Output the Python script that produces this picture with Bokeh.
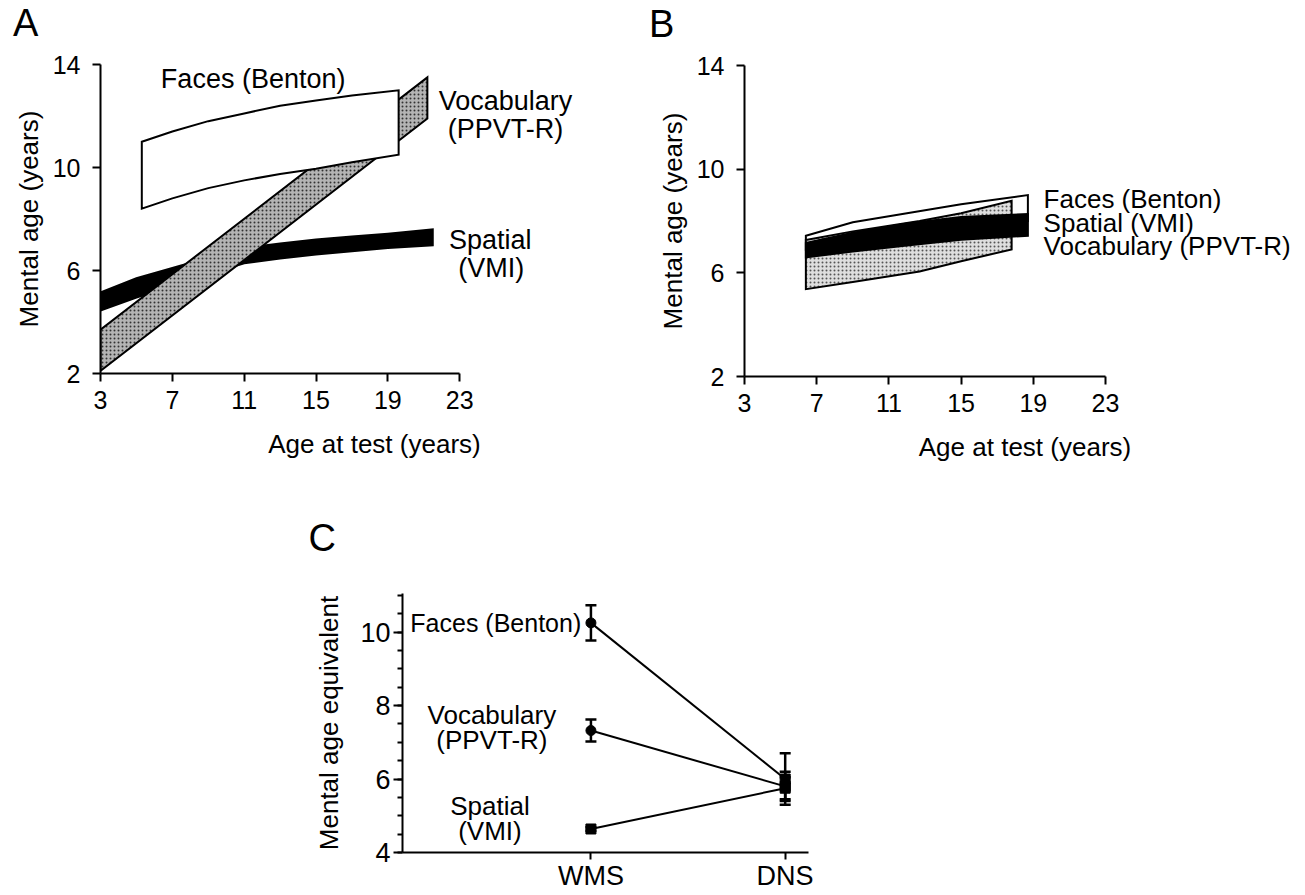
from bokeh.plotting import figure
from bokeh.layouts import row, column
from bokeh.models import (FixedTicker, Spacer, ColumnDataSource, Whisker, TeeHead,
                          Range1d, Div)
from bokeh.embed import file_html
from bokeh.resources import INLINE
from bokeh.core.properties import value

FONT = "Liberation Sans"

# ---------------- Panel A data ----------------
a_faces_x = [5.3, 7, 9, 11, 13, 15, 17, 19.6]
a_faces_hi = [11.0, 11.4, 11.8, 12.1, 12.4, 12.6, 12.8, 13.0]
a_faces_lo = [8.4, 8.8, 9.2, 9.5, 9.75, 9.95, 10.2, 10.5]
a_vocab_x = [3, 21.2]
a_vocab_hi = [3.7, 13.5]
a_vocab_lo = [2.1, 11.9]
a_spat_x = [3, 5, 7, 9, 11, 13, 15, 17, 19, 21.5]
a_spat_hi = [5.15, 5.7, 6.1, 6.5, 6.88, 7.05, 7.2, 7.32, 7.43, 7.6]
a_spat_lo = [4.45, 4.95, 5.4, 5.85, 6.28, 6.47, 6.62, 6.75, 6.87, 6.98]
a_label_text = ["Faces (Benton)", "Vocabulary", "(PPVT-R)", "Spatial", "(VMI)"]
a_label_x = [11.5, 25.55, 25.55, 24.7, 24.75]
a_label_y = [13.43, 12.58, 11.5, 7.17, 6.08]

# ---------------- Panel B data ----------------
b_faces_x = [6.4, 9, 12, 15, 18.7]
b_faces_hi = [7.43, 7.95, 8.3, 8.65, 9.0]
b_faces_lo = [6.9, 7.15, 7.4, 7.7, 8.0]
b_vocab_x = [6.4, 9, 12.7, 15, 17.8]
b_vocab_hi = [7.27, 7.6, 8.0, 8.3, 8.78]
b_vocab_lo = [5.37, 5.65, 6.05, 6.45, 6.9]
b_spat_x = [6.4, 9, 12, 15, 18.7]
b_spat_hi = [7.15, 7.55, 7.9, 8.15, 8.27]
b_spat_lo = [6.6, 6.82, 7.05, 7.28, 7.43]
b_label_text = ["Faces (Benton)", "Spatial (VMI)", "Vocabulary (PPVT-R)"]
b_label_x = [19.57, 19.57, 19.57]
b_label_y = [8.83, 7.94, 7.05]

# ---------------- Panel C data ----------------
c_groups = ["WMS", "DNS"]
c_group_x = [1, 2]
c_faces = [10.25, 6.0]
c_faces_err = [0.48, 0.7]
c_vocab = [7.32, 5.8]
c_vocab_err = [0.3, 0.4]
c_spatial = [4.64, 5.75]
c_spatial_err = [0.05, 0.3]
c_label_text = ["Faces (Benton)", "Vocabulary", "(PPVT-R)", "Spatial", "(VMI)"]
c_label_x = [0.95, 0.49, 0.49, 0.48, 0.48]
c_label_y = [10.24, 7.73, 7.05, 5.27, 4.59]
c_label_align = ["right", "center", "center", "center", "center"]
c_label_size = ["25px", "26px", "26px", "26px", "26px"]

axis_ticks_x = [3, 7, 11, 15, 19, 23]
axis_ticks_y = [2, 6, 10, 14]

LETTER_H = 44


def band(p, xs, hi, lo, **kw):
    p.patch(list(xs) + list(xs)[::-1], list(hi) + list(lo)[::-1],
            line_color="black", line_width=2, line_join="miter", **kw)


def style(p, tick_size="25px", tick_out=8):
    p.outline_line_color = None
    p.grid.visible = False
    p.background_fill_color = "white"
    p.border_fill_color = "white"
    for ax in (p.xaxis[0], p.yaxis[0]):
        ax.axis_line_width = 2
        ax.axis_line_color = "black"
        ax.major_tick_line_width = 2
        ax.major_tick_line_color = "black"
        ax.major_tick_out = tick_out
        ax.major_tick_in = 0
        ax.minor_tick_line_color = None
        ax.major_label_text_font = FONT
        ax.major_label_text_font_size = tick_size
        ax.major_label_text_color = "black"
        ax.axis_label_text_font = FONT
        ax.axis_label_text_font_style = "normal"
        ax.axis_label_text_font_size = "26px"
        ax.axis_label_text_color = "black"


def letter_div(letter, pad_left, pad_top):
    html = ('<div style="font-family:\'Liberation Sans\',Arial,sans-serif;'
            'font-size:38px;line-height:38px;color:black;'
            'padding-left:%dpx;padding-top:%dpx;margin:0">%s</div>'
            % (pad_left, pad_top, letter))
    return Div(text=html, width=100, height=LETTER_H, margin=(0, 0, 0, 0))


def panel_ab(left, top, fw, fh, xend, bottom):
    p = figure(frame_width=fw, frame_height=fh,
               x_range=Range1d(3, xend), y_range=Range1d(2, 14),
               min_border_left=left, min_border_top=top - LETTER_H,
               min_border_right=0, min_border_bottom=bottom,
               output_backend="svg", toolbar_location=None)
    style(p)
    p.xaxis.bounds = (3, 23)
    p.xaxis.ticker = FixedTicker(ticks=axis_ticks_x)
    p.yaxis.ticker = FixedTicker(ticks=axis_ticks_y)
    p.xaxis.axis_label = "Age at test (years)"
    p.yaxis.axis_label = "Mental age (years)"
    p.xaxis.major_label_standoff = 9
    p.yaxis.major_label_standoff = 12
    p.xaxis.axis_label_standoff = 17
    p.yaxis.axis_label_standoff = 6
    return p


# ---------- A ----------
pa = panel_ab(100, 64, 548, 309, 3 + 548 / 17.96, 105)
band(pa, a_spat_x, a_spat_hi, a_spat_lo, fill_color="black")
band(pa, a_vocab_x, a_vocab_hi, a_vocab_lo, fill_color="#b4b4b4",
     hatch_pattern="dot", hatch_color="#333333", hatch_scale=4, hatch_weight=1)
band(pa, a_faces_x, a_faces_hi, a_faces_lo, fill_color="white")
pa.text(x=a_label_x, y=a_label_y, text=a_label_text, text_font=value(FONT),
        text_font_size="27px", text_align="center", text_baseline="middle",
        text_color="black")

# ---------- B ----------
pb = panel_ab(96, 65, 561, 311, 3 + 561 / 18.05, 102)
band(pb, b_faces_x, b_faces_hi, b_faces_lo, fill_color="white")
band(pb, b_vocab_x, b_vocab_hi, b_vocab_lo, fill_color="#dedede",
     hatch_pattern="dot", hatch_color="#555555", hatch_scale=4, hatch_weight=1)
band(pb, b_spat_x, b_spat_hi, b_spat_lo, fill_color="black")
pb.text(x=b_label_x, y=b_label_y, text=b_label_text, text_font=value(FONT),
        text_font_size="26px", text_align="left", text_baseline="middle",
        text_color="black")

# ---------- C ----------
pc = figure(title="C", frame_width=406, frame_height=259,
            x_range=Range1d(0.03, 2.12), y_range=Range1d(4, 11.05),
            min_border_left=112, min_border_top=115, min_border_right=5,
            min_border_bottom=40,
            output_backend="svg", toolbar_location=None)
style(pc, tick_size="27px")
pc.title.text_font = FONT
pc.title.text_font_style = "normal"
pc.title.text_color = "black"
pc.title.align = "left"
pc.title.text_font_size = "38px"
pc.title.standoff = 70
pc.title.offset = -94
pc.xaxis.ticker = FixedTicker(ticks=c_group_x)
pc.xaxis.major_label_overrides = {gx: g for gx, g in zip(c_group_x, c_groups)}
pc.xaxis.major_tick_out = 7
pc.xaxis.major_label_standoff = 1
pc.yaxis.ticker = FixedTicker(ticks=[4, 6, 8, 10],
                              minor_ticks=[4 + 0.5 * i for i in range(15)])
pc.yaxis.major_tick_out = 9
pc.yaxis.minor_tick_line_color = "black"
pc.yaxis.minor_tick_line_width = 2
pc.yaxis.minor_tick_out = 5
pc.yaxis.minor_tick_in = 0
pc.yaxis.major_label_standoff = 3
pc.yaxis.axis_label = "Mental age equivalent"
pc.yaxis.axis_label_standoff = 13

for vals, errs, marks in ((c_faces, c_faces_err, ["circle", "square"]),
                          (c_vocab, c_vocab_err, ["circle", "square"]),
                          (c_spatial, c_spatial_err, ["square", "square"])):
    src = ColumnDataSource(dict(x=c_group_x, y=vals,
                                upper=[v + e for v, e in zip(vals, errs)],
                                lower=[v - e for v, e in zip(vals, errs)],
                                marker=marks))
    pc.line("x", "y", source=src, line_color="black", line_width=2)
    w = Whisker(source=src, base="x", upper="upper", lower="lower",
                line_color="black", line_width=2.5,
                upper_head=TeeHead(size=11, line_width=2.5, line_color="black"),
                lower_head=TeeHead(size=11, line_width=2.5, line_color="black"))
    pc.add_layout(w)
    pc.scatter("x", "y", source=src, marker="marker", size=10,
               fill_color="black", line_color="black")

c_src = ColumnDataSource(dict(x=c_label_x, y=c_label_y, text=c_label_text,
                              align=c_label_align, size=c_label_size))
pc.text(x="x", y="y", text="text", source=c_src, text_font=value(FONT),
        text_font_size="size", text_align="align", text_baseline="middle",
        text_color="black")

top_row = row(column(letter_div("A", 13, 4), pa),
              column(letter_div("B", 1, 5), pb))
layout = column(top_row, row(Spacer(width=290, height=10), pc))
open("out.html", "w").write(file_html(layout, INLINE))
